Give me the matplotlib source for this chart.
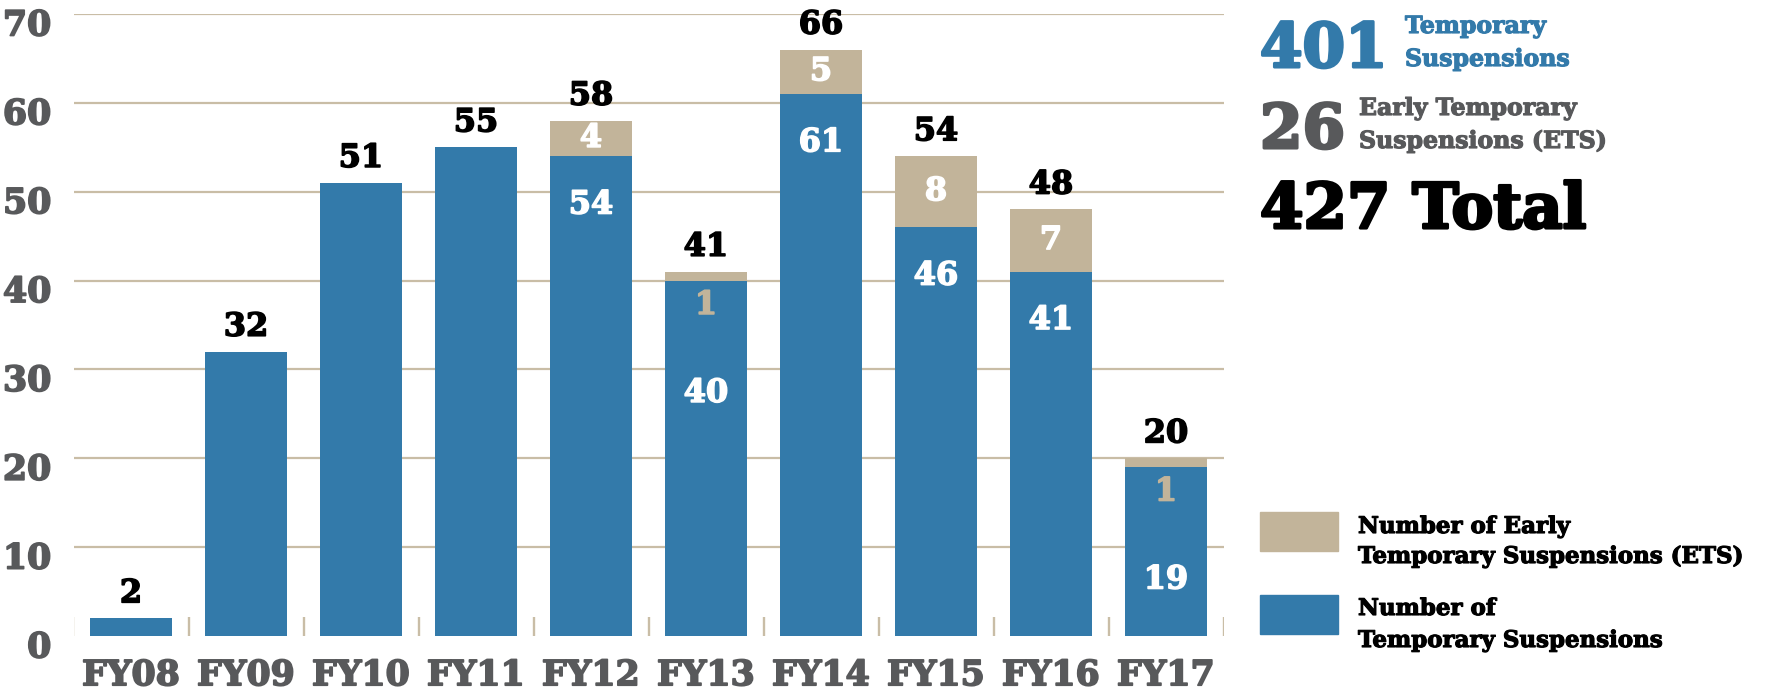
import numpy as np
import matplotlib
matplotlib.use("Agg")
import matplotlib.pyplot as plt
import matplotlib.patheffects as pe
from matplotlib.patches import Rectangle
from matplotlib.text import Text
from matplotlib.transforms import ScaledTranslation

years = ["FY08", "FY09", "FY10", "FY11", "FY12", "FY13", "FY14", "FY15", "FY16", "FY17"]
temp_susp = [2, 32, 51, 55, 54, 40, 61, 46, 41, 19]
early_susp = [0, 0, 0, 0, 4, 1, 5, 8, 7, 1]
yticks = [0, 10, 20, 30, 40, 50, 60, 70]

BLUE = "#337AAA"
TAN = "#C2B49A"
GRID = "#C9BDA6"
GRAY = "#58595B"

plt.rcParams["font.family"] = ["DejaVu Serif"]
plt.rcParams["font.weight"] = "bold"

W, H = 1769, 695
fig = plt.figure(figsize=(W / 100, H / 100), dpi=100)
ax = fig.add_axes([73.5 / W, (H - 636) / H, 1150 / W, 622 / H])

x = np.arange(len(years))
temp = np.array(temp_susp)
ets = np.array(early_susp)
total = temp + ets

for g in yticks[1:]:
    ax.axhline(g, color=GRID, lw=1.6, zorder=0)
ax.vlines(np.arange(len(years) + 1) - 0.5, 0, 2.1, color=GRID, lw=1.7, zorder=0)

ax.bar(x, temp, width=0.72, color=BLUE, zorder=2)
ax.bar(x, ets, bottom=temp, width=0.72, color=TAN, zorder=2)

for i in range(len(years)):
    ax.text(x[i], total[i] + 1.0, str(total[i]), ha="center", va="bottom",
            fontsize=23, color="black", zorder=3)
    if ets[i] == 0:
        continue
    if ets[i] >= 3:
        ax.text(x[i], temp[i] + ets[i] / 2, str(ets[i]), ha="center", va="center",
                fontsize=23, color="white", zorder=3)
        ax.text(x[i], temp[i] - 5.5, str(temp[i]), ha="center", va="center",
                fontsize=23, color="white", zorder=3)
    else:
        ax.text(x[i], temp[i] - 2.8, str(ets[i]), ha="center", va="center",
                fontsize=23, color=TAN, zorder=3)
        ax.text(x[i], temp[i] - 12.7, str(temp[i]), ha="center", va="center",
                fontsize=23, color="white", zorder=3)

ax.set_xlim(-0.5, len(years) - 0.5)
ax.set_ylim(0, 70)
ax.set_yticks(yticks)
ax.set_xticks(x)
ax.set_xticklabels(years)
for s in ax.spines.values():
    s.set_visible(False)
ax.tick_params(axis="both", length=0, labelcolor=GRAY, labelsize=25)
ax.tick_params(axis="y", pad=16)
ax.tick_params(axis="x", pad=16)
for lab in ax.get_yticklabels():
    lab.set_transform(lab.get_transform() + ScaledTranslation(0, -0.08, fig.dpi_scale_trans))


def fx(px):
    return px / W


def fy(py):
    return 1 - py / H


# summary numbers at the top right
fig.text(fx(1260), fy(67), "401", color=BLUE, fontsize=44, va="baseline")
fig.text(fx(1405), fy(33), "Temporary", color=BLUE, fontsize=17, va="baseline")
fig.text(fx(1405), fy(66), "Suspensions", color=BLUE, fontsize=17, va="baseline")
fig.text(fx(1260), fy(148), "26", color=GRAY, fontsize=44, va="baseline")
fig.text(fx(1359), fy(115), "Early Temporary", color=GRAY, fontsize=17, va="baseline")
fig.text(fx(1359), fy(148), "Suspensions (ETS)", color=GRAY, fontsize=17, va="baseline")
fig.text(fx(1260), fy(228), "427 Total", color="black", fontsize=45, va="baseline")

# legend
fig.patches.append(Rectangle((fx(1260), fy(551)), fx(78), 39 / H, color=TAN,
                             transform=fig.transFigure, figure=fig))
fig.patches.append(Rectangle((fx(1260), fy(634)), fx(78), 39 / H, color=BLUE,
                             transform=fig.transFigure, figure=fig))
fig.text(fx(1358), fy(533), "Number of Early", fontsize=16.5, va="baseline")
fig.text(fx(1358), fy(563), "Temporary Suspensions (ETS)", fontsize=16.5, va="baseline")
fig.text(fx(1358), fy(615), "Number of", fontsize=16.5, va="baseline")
fig.text(fx(1358), fy(647), "Temporary Suspensions", fontsize=16.5, va="baseline")

# heavier strokes, the original face is a very heavy slab serif
for t in fig.findobj(Text):
    if t.get_text():
        t.set_path_effects([pe.withStroke(linewidth=t.get_fontsize() * 0.05)])

fig.savefig("out.png", dpi=100)
